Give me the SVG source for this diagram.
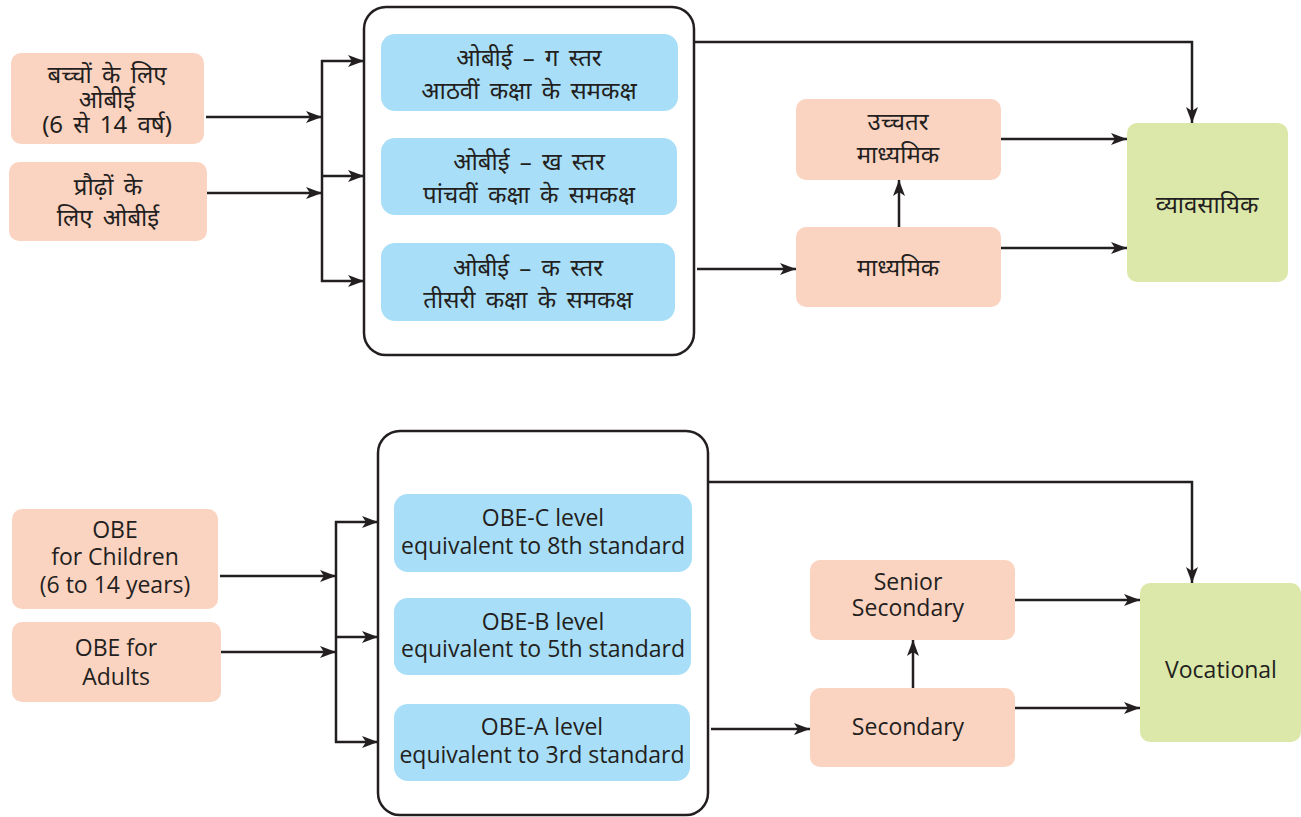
<svg xmlns="http://www.w3.org/2000/svg" width="1301" height="817" viewBox="0 0 1301 817">
<style>
.bg{fill:#ffffff}
.peach{fill:#FBD3C1}
.blue{fill:#A8DEF7}
.green{fill:#DCE8AA}
.cont{fill:#ffffff;stroke:#231F20;stroke-width:2.5}
.ln{fill:none;stroke:#231F20;stroke-width:2.5}
.arr{fill:none;stroke:#231F20;stroke-width:2.5;marker-end:url(#ah)}
.hi{font-family:"Noto Sans","Noto Sans Devanagari","Noto Serif Devanagari","Lohit Devanagari",sans-serif;font-size:24px;fill:#231F20;text-anchor:middle;word-spacing:4px}
.en{font-family:"Open Sans","Noto Sans",sans-serif;font-size:23px;fill:#231F20;text-anchor:middle}
</style>
<defs>
<marker id="ah" markerUnits="userSpaceOnUse" markerWidth="16" markerHeight="12" refX="16" refY="6" orient="auto">
<path d="M0,0 L16,6 L0,12 L4,6 z" fill="#231F20"/>
</marker>
</defs>
<rect class="bg" x="0" y="0" width="1301" height="817"/>

<!-- TOP SECTION -->
<g id="containerHi"><rect class="cont" x="364" y="7" width="330" height="348" rx="22"/></g>
<g id="hiChildren"><rect class="peach" x="11" y="53" width="193" height="91" rx="10"/>
<text class="hi" x="107" y="83">बच्चों के लिए</text>
<text class="hi" x="107" y="108">ओबीई</text>
<text class="hi" x="107" y="133">(6 से 14 वर्ष)</text></g>
<g id="hiAdults"><rect class="peach" x="9" y="162" width="198" height="79" rx="10"/>
<text class="hi" x="108" y="195">प्रौढ़ों के</text>
<text class="hi" x="108" y="226">लिए ओबीई</text></g>
<g id="hiC"><rect class="blue" x="381" y="34" width="297" height="77" rx="14"/>
<text class="hi" x="529" y="66">ओबीई – ग स्तर</text>
<text class="hi" x="529" y="99">आठवीं कक्षा के समकक्ष</text></g>
<g id="hiB"><rect class="blue" x="381" y="138" width="296" height="77" rx="14"/>
<text class="hi" x="529" y="170">ओबीई – ख स्तर</text>
<text class="hi" x="529" y="203">पांचवीं कक्षा के समकक्ष</text></g>
<g id="hiA"><rect class="blue" x="381" y="243" width="294" height="78" rx="14"/>
<text class="hi" x="528" y="276">ओबीई – क स्तर</text>
<text class="hi" x="528" y="308">तीसरी कक्षा के समकक्ष</text></g>
<g id="hiSenior"><rect class="peach" x="796" y="99" width="205" height="81" rx="10"/>
<text class="hi" x="898" y="130">उच्चतर</text>
<text class="hi" x="898" y="163">माध्यमिक</text></g>
<g id="hiSecondary"><rect class="peach" x="796" y="227" width="205" height="80" rx="10"/>
<text class="hi" x="898" y="276">माध्यमिक</text></g>
<g id="hiVocational"><rect class="green" x="1127" y="123" width="161" height="159" rx="10"/>
<text class="hi" x="1207" y="213">व्यावसायिक</text></g>

<!-- BOTTOM SECTION -->
<g id="containerEn"><rect class="cont" x="378" y="431" width="330" height="384" rx="22"/></g>
<g id="enChildren"><rect class="peach" x="12" y="509" width="206" height="100" rx="10"/>
<text class="en" x="115" y="538">OBE</text>
<text class="en" x="115" y="565">for Children</text>
<text class="en" x="115" y="593">(6 to 14 years)</text></g>
<g id="enAdults"><rect class="peach" x="12" y="622" width="209" height="80" rx="10"/>
<text class="en" x="116" y="656">OBE for</text>
<text class="en" x="116" y="685">Adults</text></g>
<g id="enC"><rect class="blue" x="394" y="494" width="298" height="78" rx="14"/>
<text class="en" x="543" y="526">OBE-C level</text>
<text class="en" x="543" y="554">equivalent to 8th standard</text></g>
<g id="enB"><rect class="blue" x="394" y="598" width="297" height="77" rx="14"/>
<text class="en" x="543" y="630">OBE-B level</text>
<text class="en" x="543" y="657">equivalent to 5th standard</text></g>
<g id="enA"><rect class="blue" x="394" y="704" width="296" height="77" rx="14"/>
<text class="en" x="542" y="735">OBE-A level</text>
<text class="en" x="542" y="763">equivalent to 3rd standard</text></g>
<g id="enSenior"><rect class="peach" x="810" y="560" width="205" height="80" rx="10"/>
<text class="en" x="908" y="590">Senior</text>
<text class="en" x="908" y="616">Secondary</text></g>
<g id="enSecondary"><rect class="peach" x="810" y="688" width="205" height="79" rx="10"/>
<text class="en" x="908" y="735">Secondary</text></g>
<g id="enVocational"><rect class="green" x="1140" y="583" width="161" height="159" rx="10"/>
<text class="en" x="1221" y="678">Vocational</text></g>

<g id="connectors">
<!-- top -->
<line class="arr" x1="206" y1="117" x2="322" y2="117"/>
<line class="arr" x1="207" y1="193" x2="322" y2="193"/>
<line class="ln" x1="322" y1="60" x2="322" y2="282"/>
<line class="arr" x1="321" y1="61" x2="364" y2="61"/>
<line class="arr" x1="321" y1="176" x2="364" y2="176"/>
<line class="arr" x1="321" y1="281" x2="364" y2="281"/>
<polyline class="arr" points="694,42 1192,42 1192,123"/>
<line class="arr" x1="697" y1="269" x2="796" y2="269"/>
<line class="arr" x1="899" y1="227" x2="899" y2="180"/>
<line class="arr" x1="1001" y1="139" x2="1127" y2="139"/>
<line class="arr" x1="1001" y1="248" x2="1127" y2="248"/>
<!-- bottom -->
<line class="arr" x1="220" y1="576" x2="336" y2="576"/>
<line class="arr" x1="221" y1="652" x2="336" y2="652"/>
<line class="ln" x1="336" y1="521" x2="336" y2="743"/>
<line class="arr" x1="335" y1="522" x2="378" y2="522"/>
<line class="arr" x1="335" y1="637" x2="378" y2="637"/>
<line class="arr" x1="335" y1="742" x2="378" y2="742"/>
<polyline class="arr" points="708,482 1192,482 1192,583"/>
<line class="arr" x1="711" y1="729" x2="810" y2="729"/>
<line class="arr" x1="913" y1="688" x2="913" y2="640"/>
<line class="arr" x1="1015" y1="600" x2="1140" y2="600"/>
<line class="arr" x1="1015" y1="708" x2="1140" y2="708"/>
</g>
</svg>
